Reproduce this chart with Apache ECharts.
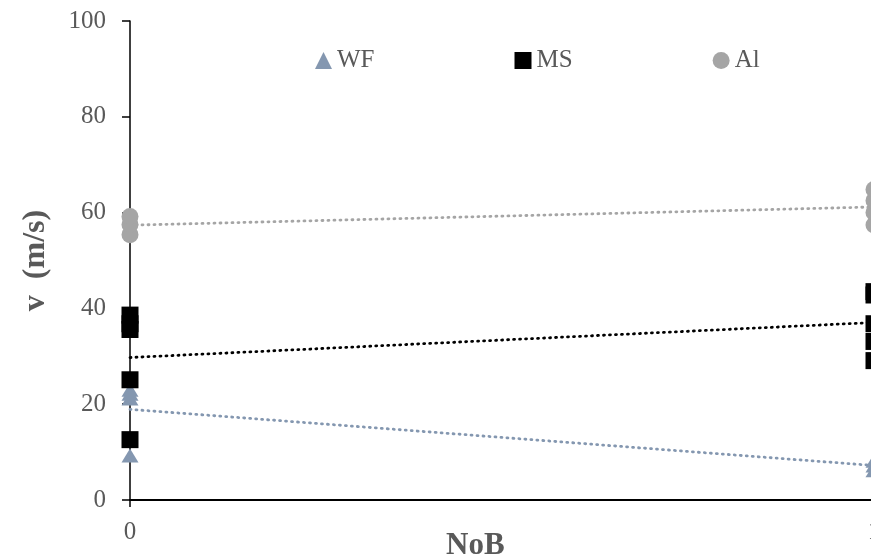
<!DOCTYPE html>
<html>
<head>
<meta charset="utf-8">
<script src="https://cdn.jsdelivr.net/npm/echarts@6/dist/echarts.min.js"></script>
<style>
  html, body { margin: 0; padding: 0; background: #ffffff; overflow: hidden; }
  #chart { width: 890px; height: 560px; }
</style>
</head>
<body>
<div id="chart"></div>
<script>
// Measured speeds v (m/s) at NoB = 0 and NoB = 1 for each material
const seriesNames = ['WF', 'MS', 'Al'];
const wfAt0 = [9.3, 21.2, 22.2, 23.0];
const wfAt1 = [6.2, 7.2, 8.2];
const msAt0 = [12.6, 25.1, 35.6, 36.8, 38.6];
const msAt1 = [29.1, 33.1, 36.8, 42.8, 43.5];
const alAt0 = [55.4, 57.5, 59.2];
const alAt1 = [57.4, 60.0, 62.5, 64.8];
const xTicks = [0, 1];
const yTicks = [0, 20, 40, 60, 80, 100];

const colors = { WF: '#8497b0', MS: '#000000', Al: '#a5a5a5' };
const symbols = { WF: 'triangle', MS: 'rect', Al: 'circle' };
const symbolSizes = { WF: [17, 14], MS: 17, Al: 17 };

function points(at0, at1) {
  return at0.map(v => [0, v]).concat(at1.map(v => [1, v]));
}

// Least-squares linear trend over the points, drawn from NoB = 0 to NoB = 1
function trend(pts) {
  const n = pts.length;
  let sx = 0, sy = 0, sxx = 0, sxy = 0;
  pts.forEach(([x, y]) => { sx += x; sy += y; sxx += x * x; sxy += x * y; });
  const b = (n * sxy - sx * sy) / (n * sxx - sx * sx);
  const a = (sy - b * sx) / n;
  return [[xTicks[0], a + b * xTicks[0]], [xTicks[1], a + b * xTicks[1]]];
}

const groups = {
  WF: points(wfAt0, wfAt1),
  MS: points(msAt0, msAt1),
  Al: points(alAt0, alAt1)
};

const series = [];
seriesNames.forEach(name => {
  series.push({
    name: name + ' trend',
    type: 'line',
    data: trend(groups[name]),
    showSymbol: false,
    silent: true,
    z: 1,
    lineStyle: { color: colors[name], width: 2.8, type: [1, 5], cap: 'round' }
  });
});
seriesNames.forEach(name => {
  series.push({
    name: name,
    type: 'scatter',
    data: groups[name],
    symbol: symbols[name],
    symbolSize: symbolSizes[name],
    clip: false,
    z: 3,
    itemStyle: { color: colors[name], opacity: 1 }
  });
});

const font = '"Liberation Serif", "Times New Roman", serif';
const textGrey = '#595959';

const chart = echarts.init(document.getElementById('chart'), null, { renderer: 'canvas' });
chart.setOption({
  animation: false,
  backgroundColor: '#ffffff',
  grid: { left: 130, right: 16, top: 21, bottom: 60, containLabel: false },
  legend: {
    data: seriesNames.map(n => ({ name: n, icon: symbols[n] })),
    left: 315,
    top: 48,
    padding: 0,
    itemGap: 140,
    itemWidth: 17,
    itemHeight: 17,
    textStyle: { fontFamily: font, fontSize: 25, color: textGrey }
  },
  xAxis: {
    type: 'value',
    min: xTicks[0],
    max: xTicks[xTicks.length - 1],
    interval: 1,
    splitLine: { show: false },
    axisLine: { lineStyle: { color: '#000000', width: 2 } },
    axisTick: { show: true, length: 7, lineStyle: { color: '#000000', width: 1.5 } },
    axisLabel: { margin: 20, fontFamily: font, fontSize: 25, color: textGrey }
  },
  yAxis: {
    type: 'value',
    min: yTicks[0],
    max: yTicks[yTicks.length - 1],
    interval: 20,
    name: 'v  (m/s)',
    nameLocation: 'middle',
    nameGap: 78,
    nameRotate: 90,
    nameTextStyle: { fontFamily: font, fontSize: 32, fontWeight: 'bold', color: textGrey },
    splitLine: { show: false },
    axisLine: { show: true, lineStyle: { color: '#000000', width: 1.5 } },
    axisTick: { show: true, length: 8, lineStyle: { color: '#000000', width: 1.5 } },
    axisLabel: { margin: 24, fontFamily: font, fontSize: 25, color: textGrey }
  },
  graphic: [{
    type: 'text',
    left: 446,
    top: 530,
    style: { text: 'NoB', font: 'bold 31px ' + font, fill: textGrey }
  }],
  series: series
});
</script>
</body>
</html>
